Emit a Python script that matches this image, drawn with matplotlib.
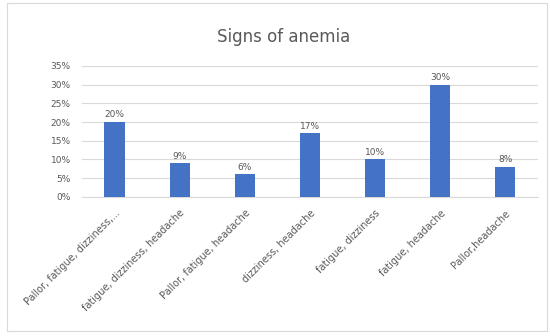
import matplotlib.pyplot as plt
from matplotlib.patches import Rectangle

categories = [
    'Pallor, fatigue, dizziness,...',
    'fatigue, dizziness, headache',
    'Pallor, fatigue, headache',
    'dizziness, headache',
    'fatigue, dizziness',
    'fatigue, headache',
    'Pallor,headache',
]
values = [20, 9, 6, 17, 10, 30, 8]
yticks = [0, 5, 10, 15, 20, 25, 30, 35]

fig = plt.figure(figsize=(5.5, 3.36), dpi=100)
ax = fig.add_axes([0.149, 0.414, 0.829, 0.39])

# Outer chart border
fig.patches.append(Rectangle((0.012, 0.015), 0.982, 0.975, transform=fig.transFigure,
                             fill=False, edgecolor='#d9d9d9', linewidth=0.8))

x = range(len(categories))
ax.bar(x, values, width=0.31, color='#4472c4', zorder=3)
for xi, v in zip(x, values):
    ax.text(xi, v + 0.7, f'{v}%', ha='center', va='bottom', fontsize=6.5, color='#595959')

ax.set_xlim(-0.5, len(categories) - 0.5)
ax.set_ylim(0, 35)
ax.set_yticks(yticks)
ax.set_yticklabels([f'{t}%' for t in yticks], fontsize=6.5, color='#595959')
ax.yaxis.grid(True, color='#d9d9d9', linewidth=0.8, zorder=0)
ax.tick_params(axis='y', length=0, pad=8)
ax.tick_params(axis='x', length=0, pad=8)
ax.set_xticks(list(x))
ax.set_xticklabels(categories, rotation=45, ha='right', rotation_mode='anchor',
                   fontsize=7, color='#595959')
for s in ['top', 'right', 'left']:
    ax.spines[s].set_visible(False)
ax.spines['bottom'].set_color('#d9d9d9')

fig.text(0.515, 0.89, 'Signs of anemia', ha='center', va='center', fontsize=12, color='#595959')

plt.savefig('out.png', dpi=100)
